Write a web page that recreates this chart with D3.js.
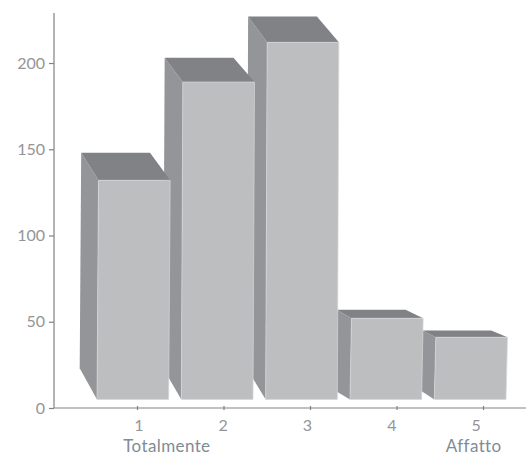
<!DOCTYPE html>
<html>
<head>
<meta charset="utf-8">
<script src="https://cdn.jsdelivr.net/npm/d3@7"></script>
<style>
  html, body { margin: 0; padding: 0; background: #fff; }
  text { font-family: Lato, sans-serif; }
</style>
</head>
<body>
<div id="wrapper"></div>
<script>
const categories = [1, 2, 3, 4, 5];
const yTicks = [0, 50, 100, 150, 200];
// values read at the front face and at the back edge of each box
const frontTop = [132, 189, 212, 52, 41];
const backTop = [148, 203, 227, 57, 45];
const backBase = [23, 23, 23, 10, 10];
const floorValue = 5;
// sideways depth of each box, in category units
const depth = [0.2, 0.21, 0.22, 0.17, 0.155];
const endLabels = [
  { cat: 1, text: "Totalmente" },
  { cat: 5, text: "Affatto" },
];

function drawChart() {
  const dimensions = { width: 526, height: 456 };

  const svg = d3
    .select("#wrapper")
    .append("svg")
    .attr("width", dimensions.width)
    .attr("height", dimensions.height)
    .style("display", "block");

  const yScale = d3.scaleLinear().domain([0, 229]).range([408, 13]);
  // tick marks on the x axis do not line up with the boxes
  const xScale = d3.scaleLinear().domain([1, 5]).range([137, 483]);
  const xBand = d3
    .scaleBand()
    .domain(categories)
    .range([97, 506])
    .paddingInner(0.15);
  const depthScale = d3.scaleLinear().domain([0, 1]).range([0, 86.5]);

  const lean = 1.5;
  const backRatio = 0.96;
  const line = d3.line();

  // right to left, each box sits in front of its right neighbour
  const bars = svg
    .append("g")
    .selectAll("g")
    .data(categories.slice().reverse())
    .join("g");

  const idx = (d) => categories.indexOf(d);

  // side
  bars
    .append("path")
    .attr("fill", "#939598")
    .attr("d", (d) => {
      const i = idx(d);
      const left = xBand(d);
      const backLeft = left + lean - depthScale(depth[i]);
      return (
        line([
          [left + lean, yScale(frontTop[i])],
          [backLeft, yScale(backTop[i])],
          [backLeft - lean, yScale(backBase[i])],
          [left, yScale(floorValue)],
        ]) + "Z"
      );
    });

  // top
  bars
    .append("path")
    .attr("fill", "#808285")
    .attr("d", (d) => {
      const i = idx(d);
      const left = xBand(d);
      const w = xBand.bandwidth();
      const backLeft = left + lean - depthScale(depth[i]);
      return (
        line([
          [left + lean, yScale(frontTop[i])],
          [left + lean + w, yScale(frontTop[i])],
          [backLeft + w * backRatio, yScale(backTop[i])],
          [backLeft, yScale(backTop[i])],
        ]) + "Z"
      );
    });

  // front
  bars
    .append("path")
    .attr("fill", "#bcbec0")
    .attr("stroke", "#d6d7d9")
    .attr("stroke-width", 0.7)
    .attr("d", (d) => {
      const i = idx(d);
      const left = xBand(d);
      const w = xBand.bandwidth();
      return (
        line([
          [left, yScale(floorValue)],
          [left + w, yScale(floorValue)],
          [left + w + lean, yScale(frontTop[i])],
          [left + lean, yScale(frontTop[i])],
        ]) + "Z"
      );
    });

  const yAxisGenerator = d3
    .axisLeft(yScale)
    .tickValues(yTicks)
    .tickSize(5)
    .tickPadding(4);
  const yAxis = svg
    .append("g")
    .attr("transform", "translate(54,0)")
    .call(yAxisGenerator);
  yAxis.select(".domain").attr("d", `M0,${yScale(229)}V${yScale(0)}`);

  const xAxisGenerator = d3
    .axisBottom(xScale)
    .tickValues(categories)
    .tickSize(2)
    .tickFormat("");
  const xAxis = svg
    .append("g")
    .attr("transform", `translate(0,${yScale(0)})`)
    .call(xAxisGenerator);
  xAxis.select(".domain").attr("d", "M54,0H526");
  xAxis.selectAll(".tick line").attr("y1", -2);

  const xLabels = svg
    .append("g")
    .attr("transform", `translate(6,${yScale(0)})`)
    .call(d3.axisBottom(xBand).tickSize(0).tickPadding(12));
  xLabels.select(".domain").remove();

  svg
    .selectAll("g.tick text")
    .attr("fill", "#939598")
    .attr("font-size", 16)
    .style("font-family", "Lato, sans-serif");
  yAxis.selectAll(".domain, .tick line").attr("stroke", "#808285").attr("stroke-width", 1.2);
  xAxis.selectAll(".domain, .tick line").attr("stroke", "#808285").attr("stroke-width", 1.2);

  svg
    .selectAll(".end-label")
    .data(endLabels)
    .join("text")
    .attr("class", "end-label")
    .attr("x", (d) => xBand(d.cat) + xBand.bandwidth() / 2 + (d.cat === 1 ? 34 : 3.5))
    .attr("y", yScale(0) + 44)
    .attr("text-anchor", "middle")
    .attr("fill", "#808b96")
    .attr("font-size", 17)
    .attr("letter-spacing", 0.4)
    .text((d) => d.text);
}

drawChart();
</script>
</body>
</html>
